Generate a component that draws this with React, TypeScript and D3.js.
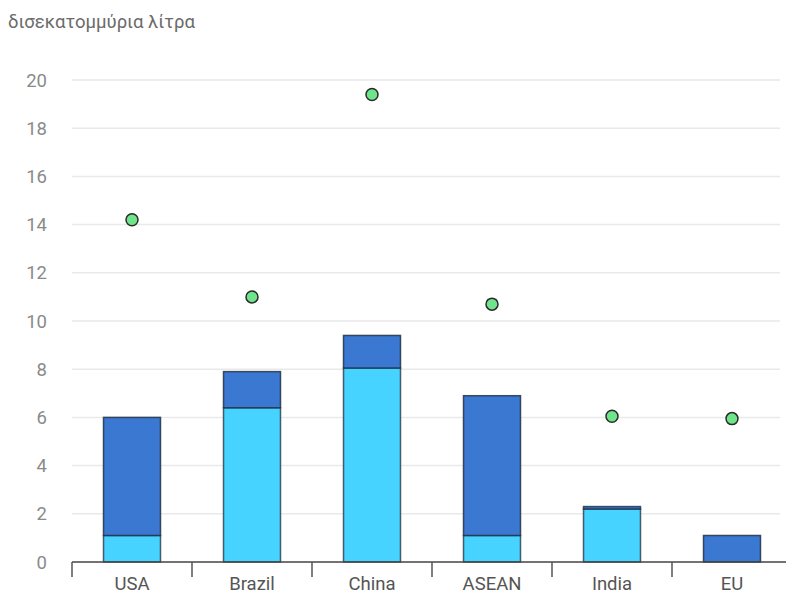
import React from "react";
import * as d3 from "d3";

const categories = ["USA", "Brazil", "China", "ASEAN", "India", "EU"];
const lowerValues = [1.1, 6.4, 8.05, 1.1, 2.2, 0];
const upperValues = [4.9, 1.5, 1.35, 5.8, 0.1, 1.1];
const dotValues = [14.2, 11.0, 19.4, 10.7, 6.05, 5.95];
const yTicks = [0, 2, 4, 6, 8, 10, 12, 14, 16, 18, 20];
const unitLabel = "δισεκατομμύρια λίτρα";

const W = 786;
const H = 594;
const left = 72;
const right = 792;
const top = 80;
const bottom = 562;

export default function App() {
  const x = d3.scaleBand<string>().domain(categories).range([left, right]).paddingInner(0).paddingOuter(0);
  const y = d3.scaleLinear().domain([0, 20]).range([bottom, top]);
  const bw = 57;
  const font = "Roboto, 'Noto Sans', sans-serif";
  return (
    <svg width={W} height={H} style={{ position: "absolute", left: 0, top: 0, display: "block" }}>
      <rect width={W} height={H} fill="#fff" />
      <text x={8} y={28} fontFamily={font} fontSize={18.5} fill="#6b6b6b">{unitLabel}</text>
      {yTicks.map((t) => (
        <g key={t}>
          {t > 0 && <line x1={left} x2={780} y1={y(t)} y2={y(t)} stroke="#e9e9e9" strokeWidth={1.5} />}
          <text x={47} y={y(t)} dy="0.36em" textAnchor="end" fontFamily={font} fontSize={18.5} fill="#8a8a8a">{t}</text>
        </g>
      ))}
      {categories.map((c, i) => {
        const cx = x(c)! + x.bandwidth() / 2;
        const x0 = cx - bw / 2;
        const l = lowerValues[i];
        const u = upperValues[i];
        return (
          <g key={c}>
            {l > 0 && (
              <rect x={x0} y={y(l)} width={bw} height={y(0) - y(l)} fill="#46d3ff" stroke="#2b3a4a" strokeOpacity={0.8} strokeWidth={1.5} />
            )}
            {u > 0 && (
              <rect x={x0} y={y(l + u)} width={bw} height={y(l) - y(l + u)} fill="#3b78d2" stroke="#233247" strokeOpacity={0.85} strokeWidth={1.5} />
            )}
            <circle cx={cx} cy={y(dotValues[i])} r={6} fill="#6ee58b" stroke="#2a2a2a" strokeWidth={1.5} />
            <text x={cx} y={590} textAnchor="middle" fontFamily={font} fontSize={18.5} fill="#555">{c}</text>
          </g>
        );
      })}
      <line x1={left} x2={W} y1={bottom} y2={bottom} stroke="#444" strokeWidth={1.5} />
      {categories.map((c) => (
        <line key={c} x1={x(c)!} x2={x(c)!} y1={bottom} y2={577} stroke="#555" strokeWidth={1.5} />
      ))}
    </svg>
  );
}
